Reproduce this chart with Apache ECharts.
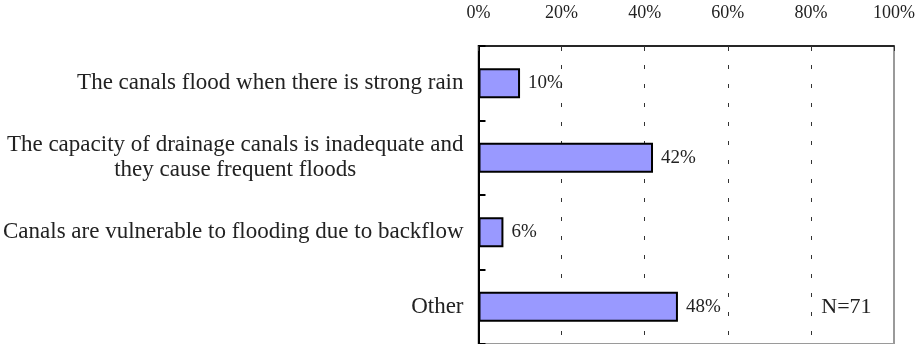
<!DOCTYPE html>
<html>
<head>
<meta charset="utf-8">
<script src="https://cdn.jsdelivr.net/npm/echarts@6/dist/echarts.min.js"></script>
<style>
  html, body { margin: 0; padding: 0; background: #fff; }
  #chart { width: 918px; height: 344px; }
</style>
</head>
<body>
<div id="chart"></div>
<script>
// Survey answers about canal flooding (share of respondents, %)
const categories = [
  'The canals flood when there is strong rain',
  'The capacity of drainage canals is inadequate and\nthey cause frequent floods',
  'Canals are vulnerable to flooding due to backflow',
  'Other'
];
const shares = [10, 42, 6, 48];
const tickValues = [0, 20, 40, 60, 80, 100];
const sampleNote = 'N=71';

const FONT = '"Liberation Serif", "Times New Roman", serif';
const chart = echarts.init(document.getElementById('chart'));

chart.setOption({
  animation: false,
  backgroundColor: '#ffffff',
  grid: {
    left: 477, right: 20, top: 46, height: 299,
    show: true, borderColor: '#9a9a9a', borderWidth: 2, backgroundColor: 'transparent'
  },
  xAxis: {
    type: 'value',
    position: 'top',
    min: tickValues[0],
    max: tickValues[tickValues.length - 1],
    interval: 20,
    axisLine: { show: true, onZero: false, lineStyle: { color: '#000', width: 1.5 } },
    axisTick: { show: true, inside: true, length: 5, lineStyle: { color: '#333', width: 1 } },
    axisLabel: {
      margin: 24,
      color: '#222',
      fontFamily: FONT,
      fontSize: 18,
      formatter: v => v + '%'
    },
    splitLine: {
      show: true,
      showMinLine: false,
      showMaxLine: false,
      lineStyle: { color: '#333', width: 1, type: [4, 15] }
    }
  },
  yAxis: {
    type: 'category',
    inverse: true,
    data: categories,
    axisLine: { show: true, lineStyle: { color: '#000', width: 2 } },
    axisTick: { show: true, inside: true, length: 7, alignWithLabel: false, lineStyle: { color: '#000', width: 2 } },
    axisLabel: {
      margin: 15,
      color: '#222',
      fontFamily: FONT,
      fontSize: 23,
      lineHeight: 25,
      formatter: v => v.split('\n').map(s => '{c|' + s + '}').join('\n'),
      rich: {
        c: { align: 'center', fontFamily: FONT, fontSize: 23, lineHeight: 25, color: '#222' }
      }
    },
    splitLine: { show: false }
  },
  series: [{
    type: 'bar',
    data: shares,
    barWidth: 30,
    itemStyle: { color: '#9999ff', borderColor: '#000', borderWidth: 2 },
    label: {
      show: true,
      position: 'right',
      distance: 8,
      color: '#222',
      fontFamily: FONT,
      fontSize: 19,
      formatter: p => p.value + '%'
    }
  }]
});

// sample-size note placed in the last category row
const notePos = chart.convertToPixel({ gridIndex: 0 }, [82.5, categories.length - 1]);
chart.setOption({
  graphic: [{
    type: 'text',
    x: notePos[0],
    y: notePos[1],
    style: {
      text: sampleNote,
      fontFamily: FONT,
      fontSize: 22,
      fill: '#222',
      textAlign: 'left',
      textVerticalAlign: 'middle'
    }
  }]
});
</script>
</body>
</html>
